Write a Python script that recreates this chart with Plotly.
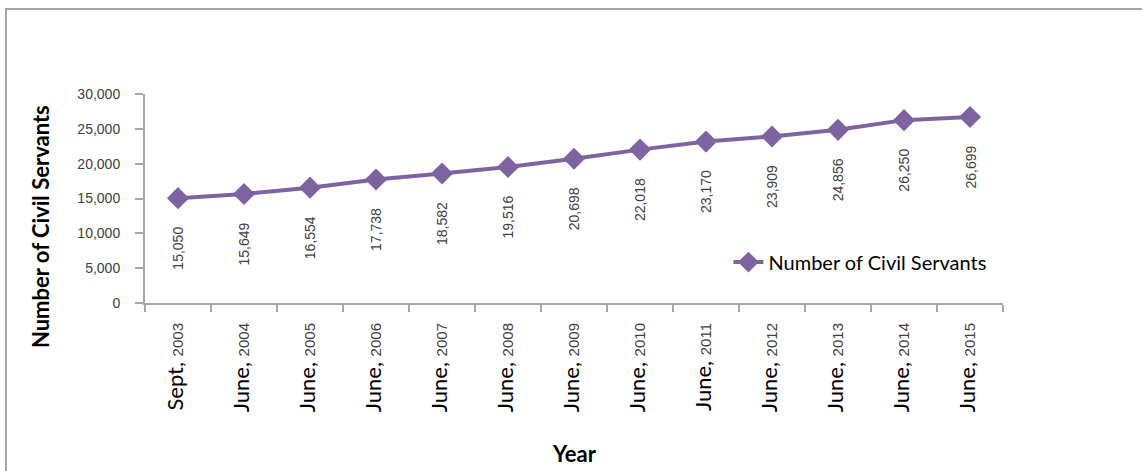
import plotly.graph_objects as go

months = ["Sept", "June", "June", "June", "June", "June", "June", "June", "June", "June", "June", "June", "June"]
years = ["2003", "2004", "2005", "2006", "2007", "2008", "2009", "2010", "2011", "2012", "2013", "2014", "2015"]
servants = [15050, 15649, 16554, 17738, 18582, 19516, 20698, 22018, 23170, 23909, 24856, 26250, 26699]

cats = [f"<span style='font-family:Lato;font-size:22px;fill:#000000'>{m}, </span>{y}"
        for m, y in zip(months, years)]

purple = "#7F63A1"

fig = go.Figure()
fig.add_trace(go.Scatter(
    x=cats, y=servants, mode="lines+markers", name="Number of Civil Servants",
    line=dict(color=purple, width=4),
    marker=dict(symbol="diamond", size=17, color=purple),
))

for c, v in zip(cats, servants):
    fig.add_annotation(x=c, y=v, xref="x", yref="y", text=f"{v:,}", textangle=-90,
                       showarrow=False, yanchor="top", yshift=-27,
                       font=dict(family="Liberation Sans, Arial", size=14, color="#404040"))

fig.add_annotation(x=-0.1224, y=0.368, xref="paper", yref="paper", text="<b>Number of Civil Servants</b>",
                   textangle=-90, showarrow=False, xanchor="center", yanchor="middle",
                   font=dict(family="Lato", size=22, color="black"))
fig.add_annotation(x=0.5, y=-0.718, xref="paper", yref="paper", text="<b>Year</b>",
                   showarrow=False, xanchor="center", yanchor="middle",
                   font=dict(family="Lato", size=22, color="black"))

fig.add_shape(type="rect", xref="paper", yref="paper", x0=-0.162, x1=1.2, y0=-0.9, y1=1.4067,
              line=dict(color="#A6A6A6", width=2), fillcolor="rgba(0,0,0,0)", layer="below")

fig.update_layout(
    width=1142, height=471,
    margin=dict(l=145, r=139, t=94, b=168),
    paper_bgcolor="white", plot_bgcolor="white",
    showlegend=True,
    legend=dict(x=0.68, y=0.196, xanchor="left", yanchor="middle", bgcolor="rgba(0,0,0,0)",
                font=dict(family="Lato", size=20, color="black")),
    xaxis=dict(type="category", range=[-0.5, 12.5], showgrid=False, showline=True,
               linecolor="#A6A6A6", linewidth=2,
               ticks="outside", tickson="boundaries", ticklen=7, tickcolor="#A6A6A6", tickwidth=2,
               tickangle=-90, tickfont=dict(family="Liberation Sans, Arial", size=15, color="#404040"),
               ticklabelstandoff=12, zeroline=False),
    yaxis=dict(range=[0, 30000], dtick=5000, tickformat=",", showgrid=False, showline=True,
               linecolor="#A6A6A6", linewidth=2, ticks="outside", ticklen=8, tickcolor="#A6A6A6",
               tickwidth=2, tickfont=dict(family="Liberation Sans, Arial", size=14, color="#404040"),
               ticklabelstandoff=12, zeroline=False),
)

fig.write_html("out.html")
